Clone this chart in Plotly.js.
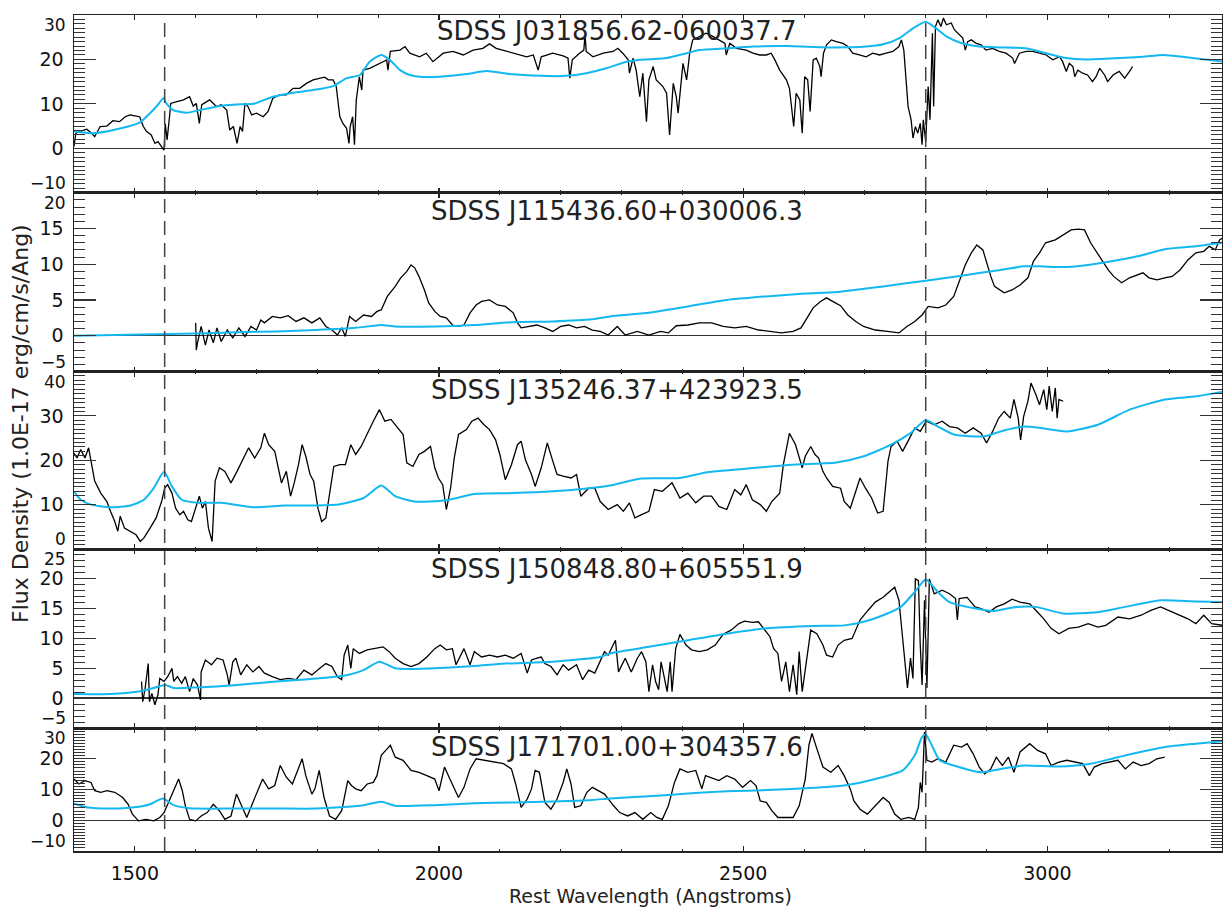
<!DOCTYPE html>
<html>
<head>
<meta charset="utf-8">
<script src="https://cdn.plot.ly/plotly-3.0.1.min.js"></script>
<style>html,body{margin:0;padding:0;background:#fff;}#chart{width:1223px;height:907px;}</style>
</head>
<body>
<div id="chart"></div>
<script>
// ---------- DATA ----------
const objectNames = ["SDSS J031856.62-060037.7","SDSS J115436.60+030006.3","SDSS J135246.37+423923.5","SDSS J150848.80+605551.9","SDSS J171701.00+304357.6"];
const lineCenters = [1549, 2800];
const xTitle = "Rest Wavelength (Angstroms)";
const yTitle = "Flux Density (1.0E-17 erg/cm/s/Ang)";

// Panel 1: J031856.62-060037.7
const wl1 = [1400,1403,1410,1421,1429,1434,1443,1454,1464,1475,1484,1492,1500,1508,1514,1519,1527,1533,1538,1544,1548,1550,1553,1557,1559,1569,1580,1590,1596,1601,1606,1610,1623,1634,1642,1651,1656,1662,1668,1673,1677,1681,1686,1692,1700,1711,1719,1727,1738,1749,1760,1771,1782,1793,1804,1812,1818,1826,1831,1837,1842,1848,1852,1854,1858,1861,1864,1869,1873,1875,1886,1897,1908,1914,1916,1920,1936,1944,1952,1968,
1979,1990,2007,2023,2040,2056,2072,2083,2094,2111,2127,2144,2155,2163,2168,2187,2204,2212,2215,2219,2231,2238,2240,2242,2253,2270,2286,2294,2302,2311,2313,2319,2324,2330,2335,2341,2345,2352,2357,2363,2368,2374,2379,2385,2390,2393,2398,2401,2407,2412,2417,2428,2439,2450,2461,2470,2472,2478,2489,2505,2516,2527,2538,2546,2552,2560,2571,2576,2583,2587,2593,2597,2601,
2606,2610,2615,2620,2626,2628,2632,2637,2645,2653,2664,2672,2680,2691,2702,2713,2724,2735,2746,2756,2760,2764,2768,2771,2776,2779,2783,2787,2791,2794,2796,2800,2804,2807,2811,2813,2816,2820,2825,2829,2834,2842,2847,2856,2861,2865,2869,2875,2883,2891,2899,2910,2921,2932,2943,2946,2954,2965,2976,2987,2998,3009,3020,3025,3031,3036,3042,3045,3050,3058,3066,3074,3080,3086,3094,3099,3108,3118,3127,3135,3140];
const flux1 = [0.4,3.4,3.8,4.3,3.4,2.6,4.9,5.0,6.2,6.0,7.1,7.5,7.3,7.1,4.9,3.8,3.0,1.1,1.5,0.4,-0.4,5.5,1.9,7.1,10.1,10.5,10.9,11.6,9.5,10.1,5.6,9.8,10.9,9.4,9.8,8.6,4.1,4.9,1.1,4.9,3.8,10.1,9.4,7.5,7.9,7.1,8.3,11.3,12.0,12.0,13.5,13.5,14.6,15.4,15.8,16.0,15.4,15.4,13.9,7.1,5.6,4.5,1.1,4.9,7.1,0.8,10.9,16.1,13.1,17.6,18.0,18.8,19.5,19.9,17.6,21.8,22.1,22.9,21.4,20.6,
21.4,19.5,21.4,21.8,21.0,22.1,22.5,23.5,22.5,21.8,21.2,20.6,21.0,17.6,20.6,21.4,20.8,20.3,15.8,19.9,21.4,22.1,25.5,21.8,20.6,21.4,21.8,22.5,21.4,19.9,16.9,20.3,17.6,11.6,16.9,6.0,15.4,18.4,15.4,14.6,13.9,12.4,3.0,14.6,11.6,7.9,15.4,19.1,15.4,21.4,24.4,25.2,25.9,25.2,24.4,23.6,21.0,23.6,22.5,22.1,21.4,21.0,21.0,21.4,19.9,17.6,15.4,13.5,4.9,12.4,10.9,3.4,16.1,
15.4,8.3,19.9,20.3,18.4,16.1,21.4,23.3,24.4,24.0,23.6,22.9,21.4,21.0,20.6,21.4,21.0,21.4,21.8,22.9,24.4,22.1,15.4,9.4,6.4,2.3,4.9,3.4,5.6,0.8,6.4,1.5,13.9,6.4,25.9,9.4,27.4,28.9,27.4,29.3,27.8,28.2,26.7,25.5,24.8,22.1,24.0,24.4,23.6,23.3,22.1,22.5,21.8,21.4,20.3,19.1,21.4,21.8,21.8,21.4,21.0,19.9,20.6,19.5,17.3,19.1,18.4,16.1,17.6,16.9,16.5,15.0,16.1,18.0,16.5,15.0,16.5,17.3,15.8,17.3,18.4];
const wlModel1 = [1400,1432,1470,1508,1525,1538,1547,1552,1563,1585,1607,1640,1673,1695,1727,1760,1793,1826,1848,1870,1886,1905,1919,1936,1952,1968,2001,2045,2078,2116,2166,2209,2242,2275,2308,2341,2374,2407,2428,2472,2516,2571,2647,2702,2730,2757,2779,2800,2817,2834,2856,2888,2921,2965,2998,3031,3064,3118,3157,3190,3228,3288];
const model1 = [3.8,3.4,4.3,5.8,7.9,9.8,11.3,10.1,8.6,8.0,8.6,9.5,9.9,10.0,11.6,12.5,13.1,14.0,15.8,16.5,19.5,21.0,19.9,17.6,16.5,16.1,16.1,16.7,17.4,16.7,16.3,16.3,16.9,18.0,19.5,20.0,20.3,21.4,22.1,22.5,22.9,23.0,22.7,22.9,23.4,24.8,27.0,28.5,27.0,25.2,23.8,22.9,22.7,22.5,21.4,20.3,20.0,20.3,20.6,21.0,20.5,19.5];

// Panel 2: J115436.60+030006.3
const wl2 = [1600,1601,1603,1609,1616,1622,1629,1635,1642,1652,1661,1671,1681,1691,1700,1707,1713,1726,1739,1752,1765,1778,1791,1804,1814,1824,1833,1840,1846,1853,1863,1876,1889,1898,1905,1915,1928,1937,1947,1954,1960,1967,1976,1983,1993,2002,2012,2022,2032,2041,2051,2061,2070,2083,2096,2109,2122,2129,2135,2148,2161,2174,2187,2200,2213,2226,2239,2252,2265,2278,
2293,2306,2326,2345,2364,2377,2390,2409,2428,2448,2467,2486,2505,2525,2544,2563,2582,2595,2605,2615,2627,2637,2647,2660,2672,2685,2698,2717,2737,2756,2769,2782,2794,2804,2820,2833,2846,2855,2865,2875,2884,2894,2900,2907,2913,2923,2929,2942,2955,2968,2977,2987,2997,3013,3026,3039,3051,3061,3071,3080,3090,3100,3109,3122,3135,3148,3157,3167,3180,3193,3205,3218,3231,3244,3257,3266,3276,3283,3288];
const flux2 = [1.8,-2.0,-1.0,1.3,-1.3,0.8,-1.0,1.1,-0.8,0.8,-0.3,1.1,-0.1,1.3,0.8,2.2,1.8,2.7,2.5,2.8,2.0,2.5,1.8,2.5,1.3,0.8,0.1,1.1,-0.1,2.7,2.0,2.9,2.7,3.4,3.6,5.5,6.9,8.1,9.0,9.9,9.5,8.3,6.4,4.6,3.4,2.7,2.5,1.5,1.3,1.5,3.2,4.3,4.8,5.0,4.3,4.1,3.2,1.8,1.1,1.3,1.5,1.1,0.6,1.3,1.5,1.1,1.3,0.8,0.6,0.1,
1.3,0.1,0.6,0.1,0.6,0.4,1.4,1.5,1.8,1.8,1.3,1.1,1.3,0.8,0.6,0.4,0.6,1.1,2.5,3.9,4.8,5.3,4.8,4.2,2.9,2.0,1.3,0.8,0.6,0.4,1.3,2.0,2.9,4.1,3.9,4.3,5.5,7.6,9.9,11.6,12.7,12.0,10.2,8.3,6.9,6.4,6.0,6.4,7.1,8.1,10.4,11.6,13.0,13.4,14.1,14.8,14.9,14.8,13.0,11.8,10.4,9.2,8.3,7.4,8.1,8.5,8.8,8.1,7.8,8.1,8.3,9.2,10.6,11.6,11.8,12.5,12.0,13.4,13.7];
const wlModel2 = [1400,1600,1668,1733,1798,1863,1905,1928,1993,2058,2122,2187,2252,2281,2345,2409,2473,2538,2602,2653,2730,2800,2859,2923,2961,2987,3032,3083,3148,3193,3244,3288];
const model2 = [0.0,0.3,0.5,0.6,0.8,1.1,1.5,1.3,1.3,1.5,1.9,2.0,2.3,2.7,3.2,4.1,5.0,5.5,5.9,6.1,6.9,7.7,8.4,9.2,9.7,9.7,9.6,10.1,11.1,12.1,12.5,13.0];

// Panel 3: J135246.37+423923.5
const wl3 = [1400,1405,1411,1418,1424,1429,1434,1444,1454,1460,1467,1472,1476,1483,1493,1502,1509,1515,1525,1535,1544,1549,1554,1561,1567,1574,1580,1587,1593,1600,1606,1611,1616,1621,1627,1632,1639,1648,1658,1668,1678,1687,1697,1707,1713,1720,1730,1736,1741,1749,1756,1762,1769,1775,1781,1788,1794,1801,1807,1814,1820,1827,1837,1846,1855,1863,1872,1882,1892,1902,1911,1921,1931,1941,1947,1957,1967,1976,1986,1993,1999,2006,2012,2019,2025,2032,2045,2054,2064,2074,2083,2093,2100,2109,2119,2129,2135,2142,2152,2158,2168,2178,2187,2194,2204,2217,2226,2233,2246,2256,2265,2278,
2293,2303,2313,2322,2332,2345,2354,2367,2383,2396,2409,2422,2435,2448,2460,2473,2486,2496,2505,2515,2528,2538,2547,2560,2566,2576,2586,2592,2597,2602,2611,2618,2624,2631,2637,2647,2660,2666,2676,2685,2692,2701,2711,2721,2730,2738,2743,2753,2762,2772,2782,2791,2801,2814,2827,2839,2852,2865,2878,2891,2900,2910,2920,2929,2939,2945,2952,2956,2961,2968,2973,2981,2987,2994,2999,3003,3008,3013,3016,3019,3026];
const flux3 = [21.6,20.5,22.4,20.5,22.8,19.0,15.3,12.6,10.7,8.5,6.2,4.0,7.4,4.7,4.0,3.2,1.7,2.5,4.7,7.0,10.7,13.7,14.5,12.6,9.2,7.7,8.5,6.6,6.2,9.2,11.9,9.2,10.7,4.7,1.7,15.3,18.3,17.5,14.9,17.5,20.5,22.8,20.5,22.8,26.1,23.5,22.0,18.3,14.9,17.5,11.9,14.9,19.0,23.5,20.9,16.8,15.3,9.2,6.2,7.0,12.2,18.6,19.0,19.0,23.5,21.3,23.1,26.1,28.8,31.4,28.8,29.2,27.6,25.8,19.4,18.6,21.3,22.0,23.1,18.3,16.0,14.5,8.9,13.7,20.5,25.8,26.9,28.8,29.5,28.0,26.9,24.6,21.3,15.6,19.0,23.5,24.3,20.1,16.8,14.1,18.3,23.9,19.8,16.8,16.4,16.0,16.8,11.9,13.7,13.7,10.7,8.9,
10.0,8.5,10.4,7.0,7.7,8.5,13.4,13.0,14.9,11.5,12.6,10.4,11.9,11.9,9.6,8.9,13.4,12.2,14.5,11.1,10.0,8.5,10.7,12.6,19.0,26.1,23.5,20.5,18.3,20.9,23.1,21.3,20.5,17.5,16.0,14.1,13.7,10.7,9.2,13.0,16.0,13.7,11.5,8.1,8.5,19.8,23.1,24.3,22.0,24.6,27.3,26.5,28.8,28.0,28.8,27.6,27.3,26.1,27.3,26.1,23.9,26.5,29.5,31.0,29.5,33.7,29.5,24.6,29.9,33.3,37.4,34.8,32.5,35.9,31.4,36.7,31.0,36.3,29.5,33.7,33.3];
const wlModel3 = [1400,1411,1428,1460,1493,1515,1531,1548,1561,1577,1603,1642,1694,1746,1798,1837,1876,1905,1928,1960,2012,2058,2122,2187,2239,2281,2332,2396,2441,2505,2570,2653,2698,2743,2775,2800,2820,2846,2897,2923,2961,2987,3032,3083,3135,3193,3244,3288];
const model3 = [13.0,11.1,10.0,9.4,9.8,11.1,13.7,17.4,14.1,11.1,10.4,10.4,9.4,9.8,9.8,10.1,11.5,14.3,11.9,10.7,11.0,12.4,12.6,13.0,13.6,14.3,15.9,16.0,17.3,18.1,18.9,19.5,20.9,23.5,26.1,29.0,27.6,25.8,25.4,26.5,27.6,27.3,26.5,28.0,31.4,33.7,34.4,35.4];

// Panel 4: J150848.80+605551.9
const wl4 = [1511,1513,1517,1522,1524,1528,1533,1538,1541,1548,1554,1561,1564,1570,1577,1583,1590,1596,1603,1608,1609,1616,1626,1635,1645,1652,1655,1661,1666,1674,1684,1694,1704,1713,1726,1739,1752,1765,1778,1791,1804,1814,1824,1833,1840,1844,1850,1855,1859,1869,1882,1895,1908,1918,1928,1941,1954,1967,1980,1993,2002,2012,2022,2028,2035,2041,2051,2058,2070,2083,2096,2109,2122,2135,2145,2152,2161,2168,2174,2184,2194,2204,2213,2226,2236,2246,2256,2265,2272,2278,
2290,2295,2306,2316,2326,2333,2340,2345,2351,2356,2361,2365,2371,2375,2380,2383,2389,2396,2406,2415,2428,2441,2454,2467,2480,2493,2502,2515,2525,2534,2544,2550,2557,2563,2570,2576,2582,2588,2592,2597,2605,2611,2621,2631,2637,2647,2656,2666,2679,2692,2705,2717,2730,2740,2749,2756,2761,2766,2770,2775,2779,2783,2788,2791,2794,2798,2802,2806,2814,2827,2839,2849,2852,2855,2868,2881,2891,2904,2916,2929,2942,2955,2971,2984,2994,3006,3019,3035,3051,3067,3083,3096,3116,3135,3154,3170,3186,3199,3218,3231,3244,3257,3270,3288];
const flux4 = [2.8,-0.6,1.7,5.8,-0.6,0.8,-1.1,0.6,3.3,2.8,3.6,5.0,2.8,3.6,2.5,3.6,1.1,3.3,2.2,-0.3,4.4,6.4,5.6,6.7,6.4,3.9,2.2,6.1,6.7,3.9,5.6,4.4,5.3,4.2,3.6,3.1,3.3,3.1,4.7,3.9,5.0,5.8,5.3,3.6,3.1,7.2,8.9,5.0,8.3,7.5,8.1,8.3,8.6,7.8,6.7,5.8,5.3,5.8,6.9,8.3,8.9,8.1,8.3,5.6,7.2,8.3,5.6,7.8,6.9,7.2,6.9,7.2,6.7,7.5,4.2,6.4,6.7,6.9,5.8,5.3,3.9,5.6,4.7,5.6,3.1,4.7,4.2,6.1,7.8,7.2,
9.7,4.4,6.7,4.4,6.7,7.8,6.1,1.1,5.6,2.8,1.4,6.1,3.3,1.1,6.1,1.1,8.3,10.7,8.9,8.1,7.8,8.1,8.9,10.7,11.4,12.5,12.9,12.7,12.8,11.7,10.3,8.3,7.5,2.8,6.1,1.1,5.6,0.6,7.8,1.1,6.7,11.4,10.8,8.9,7.2,6.9,8.9,9.7,10.0,13.1,14.7,16.1,16.9,17.8,18.6,16.4,11.1,5.0,1.7,6.7,3.3,20.0,19.7,8.9,2.2,16.4,1.7,20.0,17.5,18.1,17.5,16.7,13.1,16.7,16.9,15.3,15.0,14.4,15.3,15.8,16.6,16.1,15.8,14.4,13.3,11.7,10.8,11.7,11.9,12.5,11.9,12.2,13.6,13.3,13.9,14.7,15.3,14.7,13.9,13.3,12.5,13.9,12.5,12.2];
const wlModel4 = [1400,1460,1506,1531,1550,1564,1603,1668,1733,1798,1850,1876,1902,1928,1954,1993,2058,2109,2168,2220,2265,2281,2345,2409,2473,2538,2615,2666,2698,2730,2759,2782,2800,2820,2839,2878,2910,2949,2981,3026,3083,3128,3186,3244,3288];
const model4 = [0.7,0.7,1.1,1.7,2.2,1.7,1.8,2.2,2.8,3.3,3.9,4.7,6.1,5.0,4.9,5.0,5.4,5.8,6.0,6.4,6.9,7.5,8.6,9.7,10.8,11.7,12.1,12.2,12.8,13.9,15.3,17.8,19.9,17.8,16.1,15.1,14.6,15.3,15.3,14.2,14.4,15.3,16.4,16.2,16.1];

// Panel 5: J171701.00+304357.6
const wl5 = [1400,1408,1418,1428,1434,1444,1454,1467,1480,1489,1496,1506,1518,1531,1541,1548,1554,1561,1567,1572,1578,1583,1590,1600,1609,1619,1629,1639,1648,1658,1667,1674,1684,1694,1704,1710,1720,1730,1739,1749,1759,1767,1775,1781,1791,1796,1803,1811,1820,1830,1840,1850,1856,1863,1872,1882,1892,1898,1905,1915,1920,1928,1941,1954,1967,1980,1993,2000,2009,2019,2032,2041,2051,2061,2074,2090,2106,2119,2126,2135,2145,2152,2158,2165,2174,2184,2194,2204,2210,2217,2223,2233,2243,2252,2262,2272,
2287,2297,2310,2322,2335,2348,2358,2367,2377,2387,2396,2409,2422,2432,2438,2451,2460,2473,2486,2499,2512,2521,2528,2538,2547,2557,2570,2582,2592,2602,2608,2613,2621,2631,2644,2656,2666,2676,2682,2692,2704,2717,2730,2740,2749,2759,2772,2782,2788,2791,2794,2798,2802,2810,2820,2833,2846,2859,2868,2878,2888,2897,2907,2916,2926,2936,2945,2955,2971,2984,2997,3006,3019,3032,3045,3058,3069,3077,3090,3103,3116,3128,3141,3154,3167,3180,3193];
const flux5 = [13.4,11.8,12.9,12.3,9.6,9.1,9.6,9.1,7.4,5.2,2.0,-0.2,0.3,-0.2,0.9,2.5,5.2,8.5,11.3,13.4,9.6,4.7,0.3,-0.2,1.4,2.5,5.2,3.1,0.3,1.4,8.5,5.2,0.9,5.8,10.2,13.4,10.2,11.3,17.8,14.0,11.8,15.6,20.0,14.5,8.5,10.2,16.2,7.4,1.4,0.3,3.1,12.9,11.3,10.2,9.6,11.8,12.3,14.5,21.1,23.3,24.4,20.5,19.5,16.2,15.6,14.5,13.4,9.6,17.3,12.9,7.4,10.7,16.7,20.0,19.5,18.9,18.4,16.7,11.8,4.2,6.9,10.2,16.2,15.6,5.8,3.6,6.9,12.3,16.7,11.8,4.2,4.7,9.1,10.7,9.6,8.5,
4.7,2.5,1.4,2.5,0.3,2.5,0.9,0.3,4.7,12.3,16.7,15.6,16.2,10.2,14.5,13.4,12.9,14.5,13.4,10.7,12.9,11.3,6.3,5.8,3.1,0.9,0.9,0.9,4.7,13.4,24.4,28.2,23.3,17.3,15.6,17.8,14.5,10.2,6.3,3.6,2.0,4.7,7.4,5.8,2.0,0.3,0.9,0.3,4.2,12.3,9.1,28.7,19.5,18.9,20.0,18.9,24.4,23.8,24.9,21.6,17.3,15.1,16.7,20.5,17.8,20.5,15.6,22.2,24.9,22.7,21.6,17.8,18.9,19.5,18.9,18.4,14.5,17.3,18.4,18.9,19.5,16.7,18.9,17.8,18.4,20.0,20.5];
const wlModel5 = [1400,1421,1460,1499,1525,1546,1564,1590,1668,1733,1798,1837,1876,1905,1928,1993,2058,2122,2187,2252,2281,2345,2409,2473,2538,2602,2666,2717,2762,2782,2794,2800,2810,2823,2846,2891,2923,2961,3019,3071,3116,3193,3244,3288];
const model5 = [5.5,4.2,3.8,4.2,5.2,7.1,4.9,3.9,3.8,3.8,3.8,4.2,4.9,6.0,4.7,4.9,5.5,5.8,6.1,6.6,7.1,7.8,8.7,9.4,9.8,10.4,11.3,13.4,16.2,21.1,27.1,27.9,24.4,19.5,17.8,15.6,16.7,17.8,17.5,18.4,20.5,23.8,24.9,25.7];

const yRanges = [[-10,30],[-5,20],[0,40],[-5,25],[-10,30]];
const yMajor = [10,5,10,5,10];

// ---------- LAYOUT ----------
const W = 1223, H = 907;
const M = {l:74, r:1, t:15, b:56};
const plotH = H - M.t - M.b;   // 836
const plotW = W - M.l - M.r;   // 1148
const edges = [15, 192.7, 371.5, 549, 728, 851]; // panel edges in px
const toPaperY = p => (H - M.b - p) / plotH;
const toPaperX = p => (p - M.l) / plotW;
const FONT = 'DejaVu Sans';
const fmt = v => (v < 0 ? '\u2212' + Math.abs(v) : String(v));

const wls = [wl1,wl2,wl3,wl4,wl5], fluxes = [flux1,flux2,flux3,flux4,flux5];
const wlms = [wlModel1,wlModel2,wlModel3,wlModel4,wlModel5], models = [model1,model2,model3,model4,model5];

const traces = [];
const layout = {
  width: W, height: H, margin: M, showlegend: false,
  paper_bgcolor: '#fff', plot_bgcolor: '#fff',
  font: {family: FONT, color: '#111', size: 19},
  shapes: [], annotations: []
};

const titleCenters = [31, 211, 390, 569, 746.5];

for (let i = 0; i < 5; i++) {
  const n = i + 1;
  const xa = 'x' + (n === 1 ? '' : n), ya = 'y' + (n === 1 ? '' : n);
  traces.push({x: wls[i], y: fluxes[i], xaxis: xa, yaxis: ya, type: 'scatter', mode: 'lines',
    line: {color: '#000', width: 1.3}, hoverinfo: 'skip'});
  traces.push({x: wlms[i], y: models[i], xaxis: xa, yaxis: ya, type: 'scatter', mode: 'lines',
    line: {color: '#14B8F0', width: 2, shape: 'spline', smoothing: 0.6}, hoverinfo: 'skip'});

  const [lo, hi] = yRanges[i];
  const tv = [], tt = [];
  for (let v = lo; v <= hi; v += yMajor[i]) { tv.push(v); tt.push(v === lo || v === hi ? '' : fmt(v)); }

  layout['xaxis' + (n === 1 ? '' : n)] = {
    domain: [0, 1], range: [1400, 3287], anchor: ya,
    showline: true, linecolor: '#222', linewidth: 1.5, mirror: 'ticks',
    ticks: 'inside', ticklen: 5, tickwidth: 1.2, tickcolor: '#222', dtick: 500, tick0: 0,
    minor: {dtick: 100, ticklen: 2.5, ticks: 'inside', tickcolor: '#222', tickwidth: 1},
    showgrid: false, zeroline: false, showticklabels: n === 5,
    tickfont: {family: FONT, size: 19, color: '#111'}, ticklabelstandoff: 5
  };
  layout['yaxis' + (n === 1 ? '' : n)] = {
    domain: [toPaperY(edges[i+1]), toPaperY(edges[i])], range: yRanges[i], anchor: xa,
    showline: true, linecolor: '#222', linewidth: 1.5, mirror: 'ticks',
    ticks: 'inside', ticklen: 22, tickwidth: 1.2, tickcolor: '#333',
    tickmode: 'array', tickvals: tv, ticktext: tt,
    minor: {tickmode: 'linear', tick0: 0, dtick: 1, ticklen: 11, ticks: 'inside', tickcolor: '#333', tickwidth: 1},
    showgrid: false, zeroline: true, zerolinecolor: '#333', zerolinewidth: 1.5,
    tickfont: {family: FONT, size: 19, color: '#111'}, ticklabelstandoff: 5
  };
  // edge tick labels, nudged inward so neighbouring panels' labels do not collide
  layout.annotations.push({text: fmt(hi), xref: 'paper', yref: 'paper', x: toPaperX(68), y: toPaperY(edges[i] + 10),
    xanchor: 'right', yanchor: 'middle', showarrow: false, font: {family: FONT, size: 17, color: '#111'}});
  layout.annotations.push({text: fmt(lo), xref: 'paper', yref: 'paper', x: toPaperX(68), y: toPaperY(edges[i+1] - 10),
    xanchor: 'right', yanchor: 'middle', showarrow: false, font: {family: FONT, size: 17, color: '#111'}});

  layout.annotations.push({text: objectNames[i], xref: 'paper', yref: 'paper',
    x: toPaperX(617), y: toPaperY(titleCenters[i]), xanchor: 'center', yanchor: 'middle',
    showarrow: false, font: {family: FONT, size: 26, color: '#222'}});
}

lineCenters.forEach(c => {
  layout.shapes.push({type: 'line', xref: 'x', yref: 'paper', x0: c, x1: c, y0: 0, y1: 1,
    line: {color: '#444', width: 1.5, dash: '14px,8px'}});
});

layout.annotations.push({text: yTitle, xref: 'paper', yref: 'paper', x: toPaperX(20), y: toPaperY(424),
  xanchor: 'center', yanchor: 'middle', textangle: -90, showarrow: false,
  font: {family: FONT, size: 22, color: '#222'}});
layout.annotations.push({text: xTitle, xref: 'paper', yref: 'paper', x: toPaperX(650), y: toPaperY(896),
  xanchor: 'center', yanchor: 'middle', showarrow: false,
  font: {family: FONT, size: 19, color: '#222'}});

Plotly.newPlot('chart', traces, layout, {staticPlot: true, displayModeBar: false});
</script>
</body>
</html>
